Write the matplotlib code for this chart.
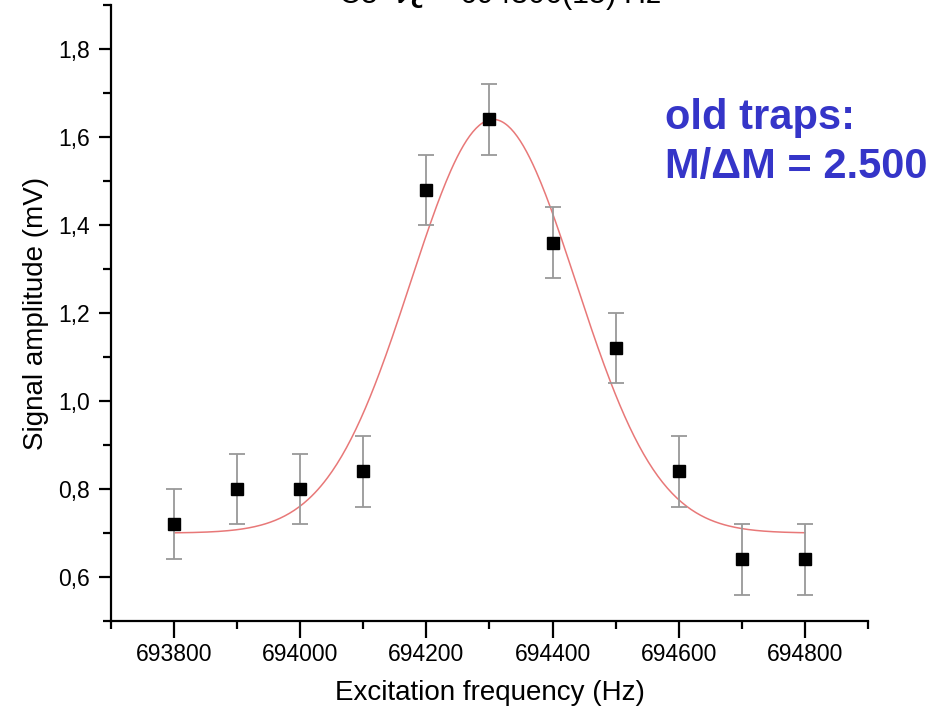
import numpy as np
import matplotlib
matplotlib.use("Agg")
import matplotlib.pyplot as plt
from matplotlib.ticker import MultipleLocator, FuncFormatter

plt.rcParams["font.family"] = ["Liberation Sans", "DejaVu Sans"]

# measured points
freq_hz = [693800, 693900, 694000, 694100, 694200, 694300,
           694400, 694500, 694600, 694700, 694800]
amp_mv = [0.72, 0.80, 0.80, 0.84, 1.48, 1.64, 1.36, 1.12, 0.84, 0.64, 0.64]
amp_err = [0.08, 0.08, 0.08, 0.08, 0.08, 0.08, 0.08, 0.08, 0.08, 0.08, 0.08]

# gaussian fit parameters
fit_y0 = 0.70
fit_amp = 0.94
fit_xc = 694306.0
fit_sigma = 131.0

title_text = r"C5  $\nu_{\mathbf{c}}$ = 694306(15) Hz"
note_lines = ["old traps:", "M/\u0394M = 2.500"]

fig = plt.figure(figsize=(9.51, 7.18), dpi=100)
ax = fig.add_axes([0.1167, 0.135, 0.7960, 0.858])

xf = np.linspace(freq_hz[0], freq_hz[-1], 400)
yf = fit_y0 + fit_amp * np.exp(-(xf - fit_xc) ** 2 / (2 * fit_sigma ** 2))
ax.plot(xf, yf, color="#e87878", lw=1.1, zorder=2)

ax.errorbar(freq_hz, amp_mv, yerr=amp_err, fmt="none", ecolor="#999999",
            elinewidth=1.3, capsize=5.5, capthick=1.3, zorder=3)
ax.plot(freq_hz, amp_mv, "s", color="black", ms=8.5, zorder=4)

ax.set_xlim(693700, 694900)
ax.set_ylim(0.5, 1.9)

for side in ("top", "right"):
    ax.spines[side].set_visible(False)
for side in ("left", "bottom"):
    ax.spines[side].set_linewidth(1.6)

ax.xaxis.set_minor_locator(MultipleLocator(100))
ax.yaxis.set_major_locator(MultipleLocator(0.2))
ax.yaxis.set_minor_locator(MultipleLocator(0.1))
ax.set_xticks([693800, 694000, 694200, 694400, 694600, 694800])
ax.yaxis.set_major_formatter(FuncFormatter(lambda v, p: f"{v:.1f}".replace(".", ",")))

ax.tick_params(which="major", direction="out", length=9, width=1.6,
               labelsize=16.5, pad=6)
ax.tick_params(axis="x", which="major", length=12, pad=4)
ax.tick_params(which="minor", direction="out", length=6, width=1.6)

ax.set_xlabel("Excitation frequency (Hz)", fontsize=20, labelpad=10)
ax.set_ylabel("Signal amplitude (mV)", fontsize=20, labelpad=7)

fig.text(0.525, 0.996, title_text, fontsize=22, ha="center", va="baseline")

ax.text(665 / 951, 1 - 118 / 718, note_lines[0], transform=fig.transFigure,
        fontsize=30, fontweight="bold", color="#3535c8", va="center", ha="left")
ax.text(665 / 951, 1 - 167 / 718, note_lines[1], transform=fig.transFigure,
        fontsize=30, fontweight="bold", color="#3535c8", va="center", ha="left")

fig.savefig("out.png", dpi=100)
